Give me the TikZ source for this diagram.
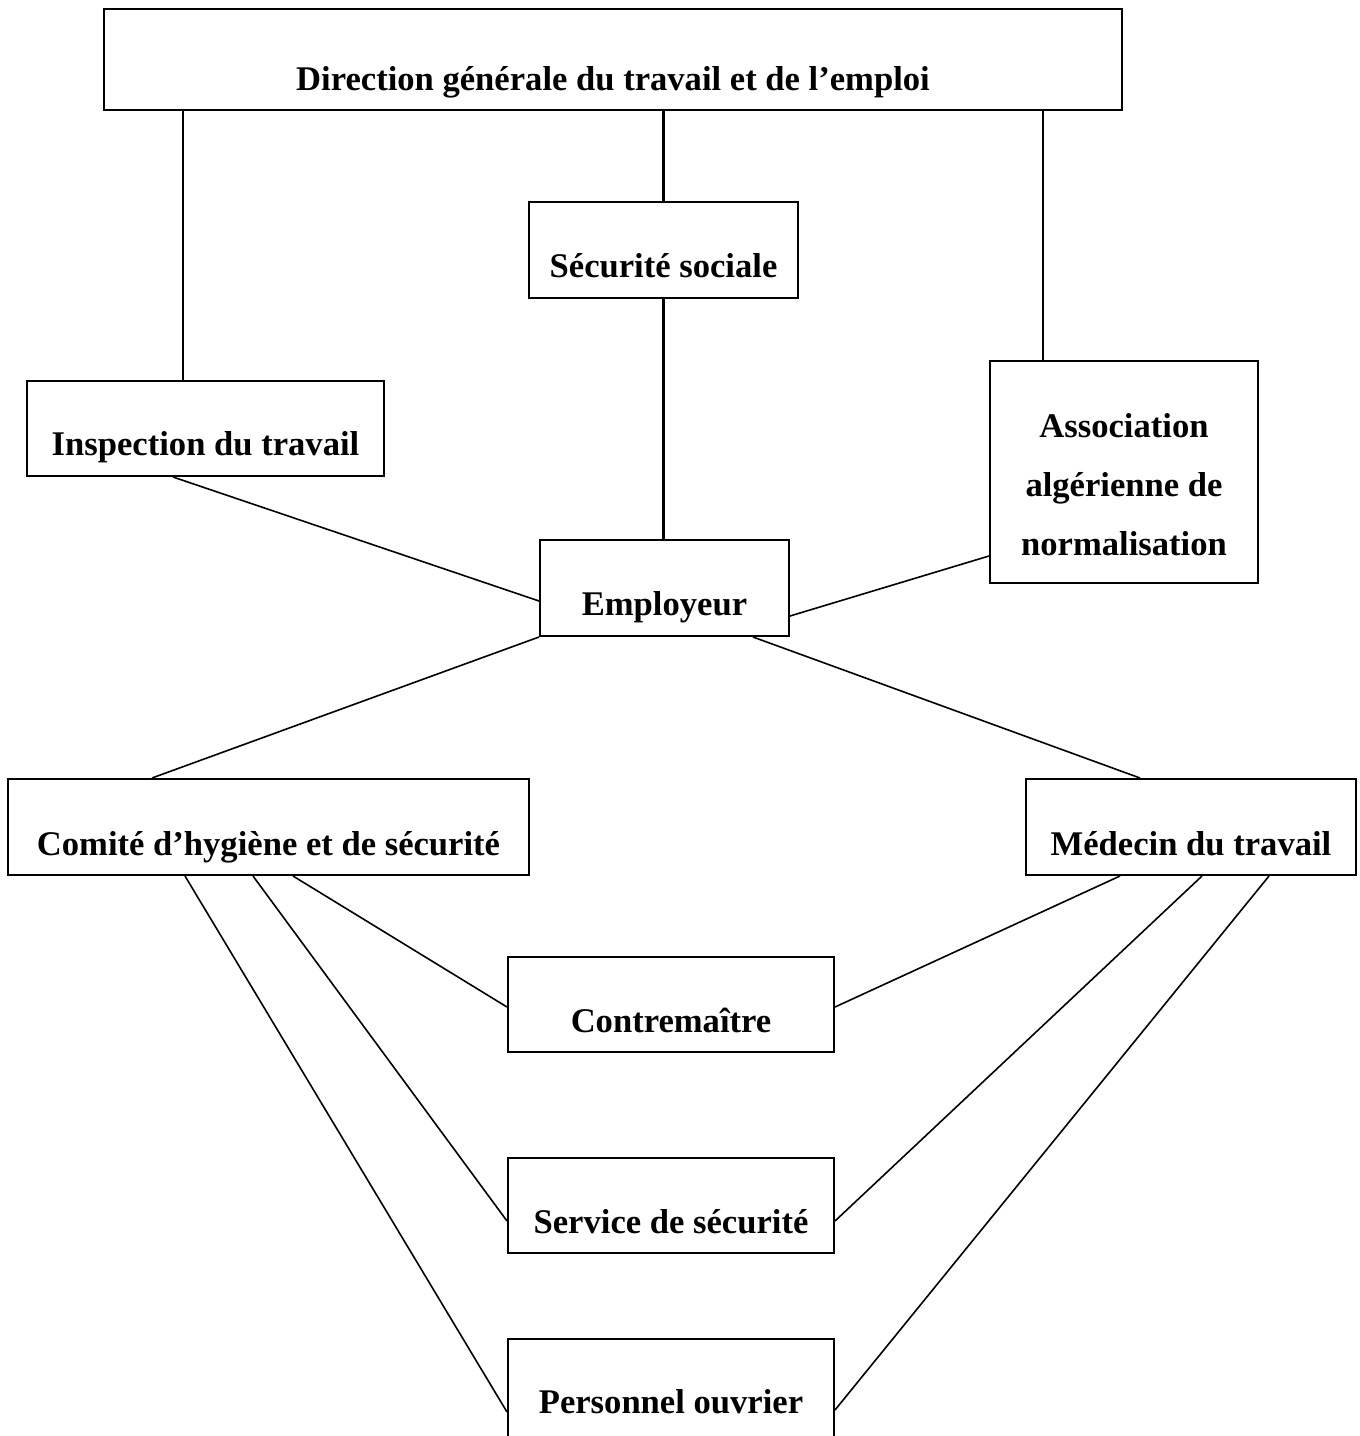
\documentclass[tikz,border=0pt]{standalone}
\usepackage{fontspec}
\setmainfont{Liberation Serif}
\usepackage{tikz}
\usetikzlibrary{positioning}

\begin{document}
\begin{tikzpicture}[x=0.5pt, y=-0.5pt,
    box/.style={draw, line width=1pt, inner sep=0pt, minimum height=48pt,
        text height=37.5pt, text depth=10.5pt, font=\fontsize{17.3}{29.5}\selectfont\bfseries},
    vline/.style={line width=1.4pt},
    link/.style={line width=0.8pt}]
    \useasboundingbox (0,0) rectangle (1360,1436);

    % Draw boxes
    \node[box, minimum width=509pt, minimum height=50.5pt, text height=40.5pt, text depth=10pt]
        (dir) at (613,59.5) {Direction générale du travail et de l’emploi};
    \node[box, minimum width=134.5pt] (secu) at (663.5,250) {Sécurité sociale};
    \node[box, minimum width=178.5pt, minimum height=47.5pt, text height=37pt] (insp) at (205.5,428.5) {Inspection du travail};
    \node[box, minimum width=134pt, minimum height=111pt, text height=97pt, text depth=14pt, align=center]
        (asso) at (1124,472) {Association\\algérienne de\\normalisation};
    \node[box, minimum width=124.5pt] (empl) at (664.5,588) {Employeur};
    \node[box, minimum width=260.5pt, text height=38pt, text depth=10pt] (comite) at (268.5,827) {Comité d’hygiène et de sécurité};
    \node[box, minimum width=165pt, text height=38pt, text depth=10pt] (medecin) at (1191,827) {Médecin du travail};
    \node[box, minimum width=163pt, minimum height=47.5pt, text height=37.5pt, text depth=10pt] (contre) at (671,1004.5) {Contremaître};
    \node[box, minimum width=163pt, minimum height=47.5pt, text height=37.5pt, text depth=10pt] (service) at (671,1205.5) {Service de sécurité};
    \node[box, minimum width=163pt, minimum height=50.5pt, text height=37pt, text depth=13.5pt] (perso) at (671,1389.5) {Personnel ouvrier};

    % Draw vertical lines from the top
    \draw[vline] ([xshift=-11.25pt]insp.north) -- ([xshift=-11.25pt]insp.north |- dir.south);
    \draw[vline] (secu.north) -- (secu.north |- dir.south);
    \draw[vline] ([xshift=-40.5pt]asso.north) -- ([xshift=-40.5pt]asso.north |- dir.south);
    \draw[vline] (secu.south) -- (secu.south |- empl.north);

    % Draw links to the employer
    \draw[link] ([xshift=-16.25pt]insp.south) -- ([yshift=-6.5pt]empl.west);
    \draw[link] ([yshift=-42pt]asso.west) -- ([yshift=-14pt]empl.east);
    \draw[link] (empl.south west) -- ([xshift=-58.25pt]comite.north);
    \draw[link] ([xshift=44.25pt]empl.south) -- ([xshift=-25.5pt]medecin.north);

    % Draw links to the lower boxes
    \draw[link] ([xshift=12.25pt]comite.south) -- ([yshift=-1.25pt]contre.west);
    \draw[link] ([xshift=-7.75pt]comite.south) -- ([yshift=-7.75pt]service.west);
    \draw[link] ([xshift=-41.75pt]comite.south) -- ([yshift=-11.25pt]perso.west);
    \draw[link] ([xshift=-35.5pt]medecin.south) -- ([yshift=-1.25pt]contre.east);
    \draw[link] ([xshift=5.5pt]medecin.south) -- ([yshift=-7.75pt]service.east);
    \draw[link] ([xshift=39pt]medecin.south) -- ([yshift=-10.25pt]perso.east);
\end{tikzpicture}
\end{document}
